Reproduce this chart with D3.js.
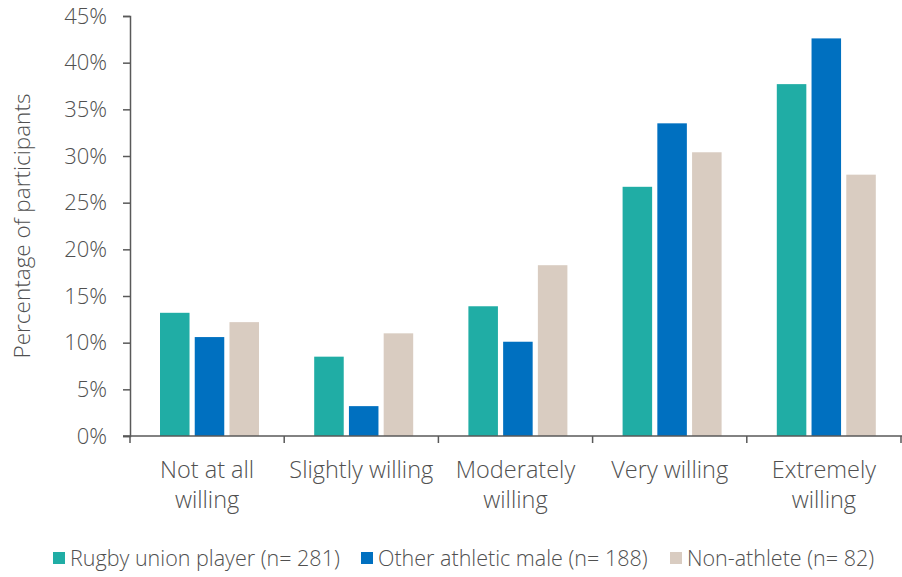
<!DOCTYPE html>
<html>
<head>
<meta charset="utf-8">
<script src="https://cdn.jsdelivr.net/npm/d3@7"></script>
<style>
  html, body { margin: 0; padding: 0; background: #fff; }
  svg text { font-family: "Open Sans", "Noto Sans", sans-serif; font-weight: 300; fill: #505050; }
</style>
</head>
<body>
<svg id="chart" width="902" height="577"></svg>
<script>
// Willingness categories (two-line labels)
const categories = [
  ["Not at all", "willing"],
  ["Slightly willing"],
  ["Moderately", "willing"],
  ["Very willing"],
  ["Extremely", "willing"]
];
const categoryKeys = ["Not at all willing", "Slightly willing", "Moderately willing", "Very willing", "Extremely willing"];

const seriesNames = ["Rugby union player (n= 281)", "Other athletic male (n= 188)", "Non-athlete (n= 82)"];
const seriesColors = ["#20ADA5", "#0070C0", "#D9CCC1"];

// Percentage of participants per category
const rugby = [13.2, 8.5, 13.9, 26.7, 37.7];
const otherAthletic = [10.6, 3.2, 10.1, 33.5, 42.6];
const nonAthlete = [12.2, 11.0, 18.3, 30.4, 28.0];

const yTicks = [0, 5, 10, 15, 20, 25, 30, 35, 40, 45];

const series = [rugby, otherAthletic, nonAthlete];

const svg = d3.select("#chart");
const plotLeft = 130, plotRight = 901, plotTop = 16, plotBottom = 436;

const x = d3.scaleBand().domain(categoryKeys).range([plotLeft, plotRight]).paddingInner(0).paddingOuter(0);
const y = d3.scaleLinear().domain([0, 45]).range([plotBottom, plotTop]);
const x1 = d3.scaleBand().domain(d3.range(series.length)).range([30, 129]).paddingInner(0.15);

// Bars
const g = svg.append("g");
categoryKeys.forEach((cat, ci) => {
  series.forEach((vals, si) => {
    g.append("rect")
      .attr("x", x(cat) + x1(si))
      .attr("y", y(vals[ci]))
      .attr("width", x1.bandwidth())
      .attr("height", y(0) - y(vals[ci]))
      .attr("fill", seriesColors[si]);
  });
});

// Y axis
const yAxis = d3.axisLeft(y).tickValues(yTicks).tickFormat(d => d + "%").tickSize(7).tickPadding(16);
const yg = svg.append("g").attr("transform", `translate(${plotLeft},0)`).call(yAxis);
yg.select(".domain").attr("stroke", "#595959").attr("stroke-width", 1.5);
yg.selectAll(".tick line").attr("stroke", "#595959").attr("stroke-width", 1.5);
yg.selectAll(".tick text").style("font-size", "22px").style("font-family", null).attr("fill", "#505050");

// X axis: ticks at category boundaries
const xg = svg.append("g").attr("transform", `translate(0,${plotBottom})`);
xg.append("line").attr("x1", plotLeft - 7).attr("x2", 902).attr("y1", 0).attr("y2", 0)
  .attr("stroke", "#595959").attr("stroke-width", 1.5);
const bounds = categoryKeys.map(c => x(c)).concat([x(categoryKeys[categoryKeys.length - 1]) + x.bandwidth()]);
xg.selectAll("line.tk").data(bounds).enter().append("line").attr("class", "tk")
  .attr("x1", d => d).attr("x2", d => d).attr("y1", 0).attr("y2", 7)
  .attr("stroke", "#595959").attr("stroke-width", 1.5);

// Category labels
categoryKeys.forEach((cat, ci) => {
  const cx = x(cat) + x.bandwidth() / 2;
  const t = svg.append("text")
    .attr("x", cx)
    .attr("y", 478)
    .attr("text-anchor", "middle")
    .style("font-size", "23.5px");
  categories[ci].forEach((line, li) => {
    t.append("tspan").attr("x", cx).attr("dy", li === 0 ? 0 : 30).text(line);
  });
});

// Y axis title
svg.append("text")
  .attr("transform", `translate(30,${226}) rotate(-90)`)
  .attr("text-anchor", "middle")
  .style("font-size", "22.5px")
  .text("Percentage of participants");

// Legend
const legendX = [53, 361, 670];
const legendW = [];
seriesNames.forEach((name, i) => {
  svg.append("rect").attr("x", legendX[i]).attr("y", 552).attr("width", 12).attr("height", 12).attr("fill", seriesColors[i]);
  svg.append("text").attr("x", legendX[i] + 17).attr("y", 566).style("font-size", "21.5px").text(name);
});
</script>
</body>
</html>
